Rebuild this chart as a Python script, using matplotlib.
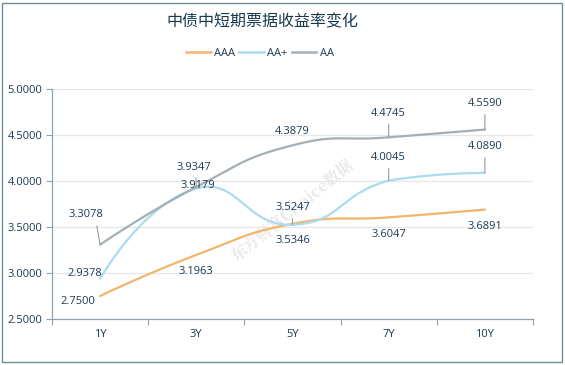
import matplotlib
matplotlib.use('Agg')
import matplotlib.pyplot as plt
import numpy as np
from matplotlib.patches import Rectangle
from matplotlib.lines import Line2D

plt.rcParams['font.family'] = ['Open Sans', 'Noto Sans CJK SC', 'DejaVu Sans']

# data
categories = ['1Y', '3Y', '5Y', '7Y', '10Y']
aaa = [2.7500, 3.1963, 3.5346, 3.6047, 3.6891]
aa_plus = [2.9378, 3.9179, 3.5247, 4.0045, 4.0890]
aa = [3.3078, 3.9347, 4.3879, 4.4745, 4.5590]
series_names = ['AAA', 'AA+', 'AA']

colors = ['#f2b56b', '#a9dcee', '#a3afb6']
text_color = '#1c3a55'
axis_color = '#8fa3ae'

# label offsets in pixels (dx, dy) and whether a leader line is drawn
label_offsets = [
    [(-22, -5), (0, -17), (0, -17), (0, -17), (0, -17)],
    [(-15, 5), (2, 3), (0, 17), (0, 23), (0, 26)],
    [(-14, 30), (-2, 20), (0, 14), (0, 24), (0, 26)],
]
leaders = [
    [False, False, False, False, False],
    [False, False, True, True, True],
    [True, True, False, True, True],
]


def smooth_curve(xs, ys, sx, sy, smooth=0.5, n=40):
    # bezier smoothing like the chart lib (control points clamped to the series bbox)
    p = np.column_stack([np.asarray(xs, float) * sx, np.asarray(ys, float) * sy])
    lo, hi = p.min(axis=0), p.max(axis=0)
    cps = [p[0]]
    for i in range(1, len(p) - 1):
        v = (p[i + 1] - p[i - 1]) * smooth
        d0 = np.hypot(*(p[i] - p[i - 1]))
        d1 = np.hypot(*(p[i + 1] - p[i]))
        s = d0 + d1
        c0 = np.clip(p[i] - v * d0 / s, lo, hi)
        c1 = np.clip(p[i] + v * d1 / s, lo, hi)
        cps += [c0, c1]
    cps.append(p[-1])
    out = [p[:1]]
    t = np.linspace(0, 1, n)[1:, None]
    for i in range(1, len(p)):
        a, b = cps[2 * (i - 1)], cps[2 * (i - 1) + 1]
        seg = (1-t)**3*p[i-1] + 3*(1-t)**2*t*a + 3*(1-t)*t**2*b + t**3*p[i]
        out.append(seg)
    out = np.vstack(out)
    return out[:, 0] / sx, out[:, 1] / sy


fig = plt.figure(figsize=(5.65, 3.65), dpi=100)
ax = fig.add_axes([52/565, 46/365, 481/565, 230/365])

ax.set_xlim(-0.5, 4.5)
ax.set_ylim(2.5, 5.0)
sx = 481 / 5.0
sy = 230 / 2.5

xs = np.arange(len(categories))
for k, vals in enumerate([aaa, aa_plus, aa]):
    cx, cy = smooth_curve(xs, vals, sx, sy)
    ax.plot(cx, cy, color=colors[k], lw=1.6, solid_capstyle='round', zorder=3)

for k, vals in enumerate([aaa, aa_plus, aa]):
    for i, v in enumerate(vals):
        dx, dy = label_offsets[k][i]
        arrow = None
        if leaders[k][i]:
            arrow = dict(arrowstyle='-', color='#9a9a9a', lw=0.8,
                         shrinkA=2, shrinkB=0, relpos=(0.5 + dx * -0.02 if dx else 0.5, 0))
        ax.annotate('%.4f' % v, xy=(i, v), xytext=(dx, dy), textcoords='offset pixels',
                    ha='center', va='center', fontsize=8, color=text_color,
                    arrowprops=arrow, zorder=5)

# watermark
ax.text(2.0, 3.68, '东方财富Choice数据', rotation=39, fontsize=11.5, fontweight='bold',
        family=['Noto Serif CJK SC', 'Noto Sans CJK SC', 'DejaVu Sans'],
        color='#e8e8e8', ha='center', va='center', zorder=1)

ax.set_yticks(np.arange(2.5, 5.01, 0.5))
ax.set_yticklabels(['%.4f' % t for t in np.arange(2.5, 5.01, 0.5)])
ax.set_xticks(xs)
ax.set_xticklabels(categories)
ax.set_xticks(np.arange(-0.5, 4.6, 1), minor=True)
ax.tick_params(axis='x', which='major', length=0, pad=7, labelsize=8, labelcolor=text_color)
ax.tick_params(axis='x', which='minor', length=4, color=axis_color, width=0.8)
ax.tick_params(axis='y', length=4, color=axis_color, width=0.8, pad=3, labelsize=8, labelcolor=text_color)

ax.grid(axis='y', color='#e6e6e6', lw=0.9, zorder=0)
ax.set_axisbelow(True)
for s in ['top', 'right']:
    ax.spines[s].set_visible(False)
for s in ['left', 'bottom']:
    ax.spines[s].set_color(axis_color)
    ax.spines[s].set_linewidth(0.9)

fig.text(262/565, 1 - 22/365, '中债中短期票据收益率变化', ha='center', va='center',
         fontsize=11.5, color='#17384f', family=['Noto Sans CJK SC', 'DejaVu Sans'])

handles = [Line2D([0], [0], color=c, lw=1.8) for c in colors]
fig.legend(handles, series_names, loc='center', bbox_to_anchor=(260/565, 1 - 53/365),
           ncol=3, frameon=False, fontsize=8, handlelength=2.2, handletextpad=0.3,
           columnspacing=0.4, labelcolor=text_color)

fig.patches.append(Rectangle((2/565, 3/365), 560/565, 359/365, transform=fig.transFigure,
                             fill=False, edgecolor='#6b8f9a', lw=1))

fig.savefig('out.png', dpi=100)
